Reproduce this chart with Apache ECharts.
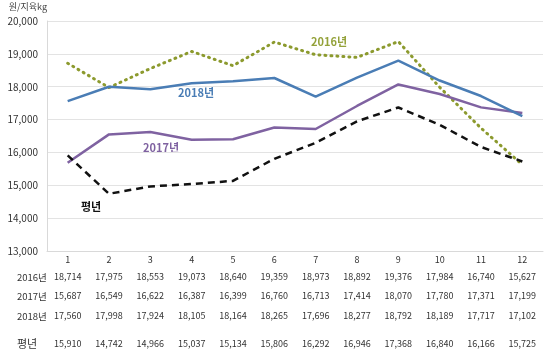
<!DOCTYPE html>
<html>
<head>
<meta charset="utf-8">
<script src="https://cdn.jsdelivr.net/npm/echarts@6/dist/echarts.min.js"></script>
<style>
  html, body { margin: 0; padding: 0; background: #fff; }
  #chart { width: 546px; height: 352px; }
</style>
</head>
<body>
<div id="chart"></div>
<script>
var months = ['1', '2', '3', '4', '5', '6', '7', '8', '9', '10', '11', '12'];
var y2016 = [18714, 17975, 18553, 19073, 18640, 19359, 18973, 18892, 19376, 17984, 16740, 15627];
var y2017 = [15687, 16549, 16622, 16387, 16399, 16760, 16713, 17414, 18070, 17780, 17371, 17199];
var y2018 = [17560, 17998, 17924, 18105, 18164, 18265, 17696, 18277, 18792, 18189, 17717, 17102];
var avg   = [15910, 14742, 14966, 15037, 15134, 15806, 16292, 16946, 17368, 16840, 16166, 15725];
var seriesNames = ['2016년', '2017년', '2018년', '평년'];
var tableRows = [y2016, y2017, y2018, avg];

var FONT = '"Noto Sans CJK KR", "Noto Sans", sans-serif';
var colors = ['#8c9a2e', '#7f62a1', '#4a7db5', '#111111'];

var myChart = echarts.init(document.getElementById('chart'));

function fmt(v) { return v.toLocaleString('en-US'); }

// main axis + one hidden axis per table row
var xAxes = [{
    type: 'category',
    data: months,
    boundaryGap: true,
    axisLine: { lineStyle: { color: '#d9d9d9' } },
    axisTick: { show: false },
    axisLabel: { color: '#333', fontSize: 9, fontFamily: FONT, margin: 9, verticalAlign: 'middle' }
}];
var rowOffsets = [26, 45, 65, 93];
tableRows.forEach(function(row, i) {
    xAxes.push({
        type: 'category',
        data: row.map(fmt),
        position: 'bottom',
        offset: rowOffsets[i],
        boundaryGap: true,
        axisLine: { show: false },
        axisTick: { show: false },
        axisLabel: { color: '#333', fontSize: 9, fontFamily: FONT, margin: 0, verticalAlign: 'middle' },
        name: seriesNames[i],
        nameLocation: 'start',
        nameGap: 30,
        nameTextStyle: {
            color: '#333', fontFamily: FONT,
            fontSize: i === 3 ? 11 : 9.5,
            align: 'left', verticalAlign: 'middle'
        }
    });
});

var option = {
    animation: false,
    backgroundColor: '#fff',
    grid: { left: 47, right: 3, top: 21, bottom: 101 },
    xAxis: xAxes,
    yAxis: {
        type: 'value',
        min: 13000,
        max: 20000,
        interval: 1000,
        name: '원/지육kg',
        nameLocation: 'end',
        nameGap: 10,
        nameTextStyle: { color: '#444', fontSize: 9, fontFamily: FONT, align: 'right' },
        axisLine: { show: true, lineStyle: { color: '#d9d9d9' } },
        axisTick: { show: false },
        axisLabel: { color: '#333', fontSize: 10, fontFamily: FONT, margin: 9, formatter: function(v) { return fmt(v); } },
        splitLine: { lineStyle: { color: '#e3e3e3' } }
    },
    graphic: [
        { type: 'text', left: 311, top: 36, style: { text: '2016년', fill: '#94a23a', fontSize: 11, fontWeight: 'bold', fontFamily: FONT } },
        { type: 'text', left: 178, top: 87, style: { text: '2018년', fill: colors[2], fontSize: 11, fontWeight: 'bold', fontFamily: FONT } },
        { type: 'text', left: 143, top: 142, style: { text: '2017년', fill: colors[1], fontSize: 11, fontWeight: 'bold', fontFamily: FONT } },
        { type: 'text', left: 81, top: 201, style: { text: '평년', fill: colors[3], fontSize: 11, fontWeight: 'bold', fontFamily: FONT } }
    ],
    series: [
        { name: '2016년', type: 'line', data: y2016, symbol: 'none', z: 3,
          lineStyle: { color: colors[0], width: 3, type: [1, 5], cap: 'round' } },
        { name: '2017년', type: 'line', data: y2017, symbol: 'none',
          lineStyle: { color: colors[1], width: 2.5 } },
        { name: '2018년', type: 'line', data: y2018, symbol: 'none',
          lineStyle: { color: colors[2], width: 2.5 } },
        { name: '평년', type: 'line', data: avg, symbol: 'none',
          lineStyle: { color: colors[3], width: 2.5, type: [7, 5] } }
    ]
};

myChart.setOption(option);
</script>
</body>
</html>
